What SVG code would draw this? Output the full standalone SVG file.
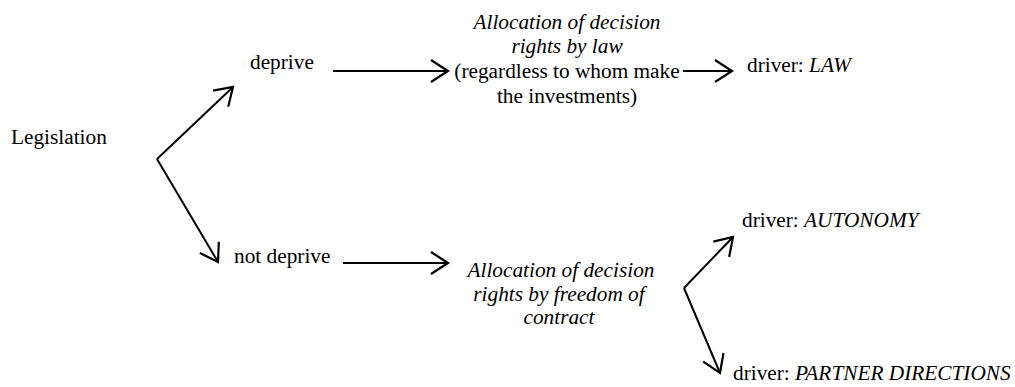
<svg xmlns="http://www.w3.org/2000/svg" width="1015" height="387" viewBox="0 0 1015 387">
<style>
.it { font-style: italic; }
.c { text-anchor: middle; }
.conn { stroke: #000; stroke-width: 2; fill: none; marker-end: url(#ah); }
</style>
<defs>
<marker id="ah" markerUnits="userSpaceOnUse" viewBox="-22 -14 26 28" markerWidth="26" markerHeight="28" refX="0" refY="0" orient="auto" overflow="visible">
<path d="M-17,-11 L0,0 L-17,11" fill="none" stroke="#000" stroke-width="2.2"/>
</marker>
</defs>
<rect width="1015" height="387" fill="#fff"/>
<g id="connectors">
<path class="conn" d="M157,159 L233,87"/>
<path class="conn" d="M157,159 L218,262"/>
<path class="conn" d="M333,71 L448,71"/>
<path class="conn" d="M683,71 L732,71"/>
<path class="conn" d="M343,263 L448,263"/>
<path class="conn" d="M684,288 L733,237"/>
<path class="conn" d="M684,288 L720,373"/>
</g>
<g id="legislation"><text x="11" y="144" font-family="'Liberation Serif', serif" font-size="21.3">Legislation</text></g>
<g id="deprive"><text x="250" y="69" font-family="'Liberation Serif', serif" font-size="21.3">deprive</text></g>
<g id="not-deprive"><text x="234" y="263" font-family="'Liberation Serif', serif" font-size="21.3">not deprive</text></g>
<g id="alloc-law">
<text class="c it" x="567" y="29" font-family="'Liberation Serif', serif" font-size="21.3">Allocation of decision</text>
<text class="c it" x="567" y="53" font-family="'Liberation Serif', serif" font-size="21.3">rights by law</text>
<text class="c" x="567" y="78" font-family="'Liberation Serif', serif" font-size="21.3">(regardless to whom make</text>
<text class="c" x="567" y="103" font-family="'Liberation Serif', serif" font-size="21.3">the investments)</text>
</g>
<g id="alloc-contract">
<text class="c it" x="561" y="277" font-family="'Liberation Serif', serif" font-size="21.3">Allocation of decision</text>
<text class="c it" x="559" y="301" font-family="'Liberation Serif', serif" font-size="21.3">rights by freedom of</text>
<text class="c it" x="559" y="324" font-family="'Liberation Serif', serif" font-size="21.3">contract</text>
</g>
<g id="driver-law"><text x="747" y="72" font-family="'Liberation Serif', serif" font-size="21.3">driver: <tspan class="it">LAW</tspan></text></g>
<g id="driver-autonomy"><text x="742" y="227" font-family="'Liberation Serif', serif" font-size="21.3">driver: <tspan class="it">AUTONOMY</tspan></text></g>
<g id="driver-partner"><text x="733" y="380" font-family="'Liberation Serif', serif" font-size="21.3">driver: <tspan class="it">PARTNER DIRECTIONS</tspan></text></g>
</svg>
